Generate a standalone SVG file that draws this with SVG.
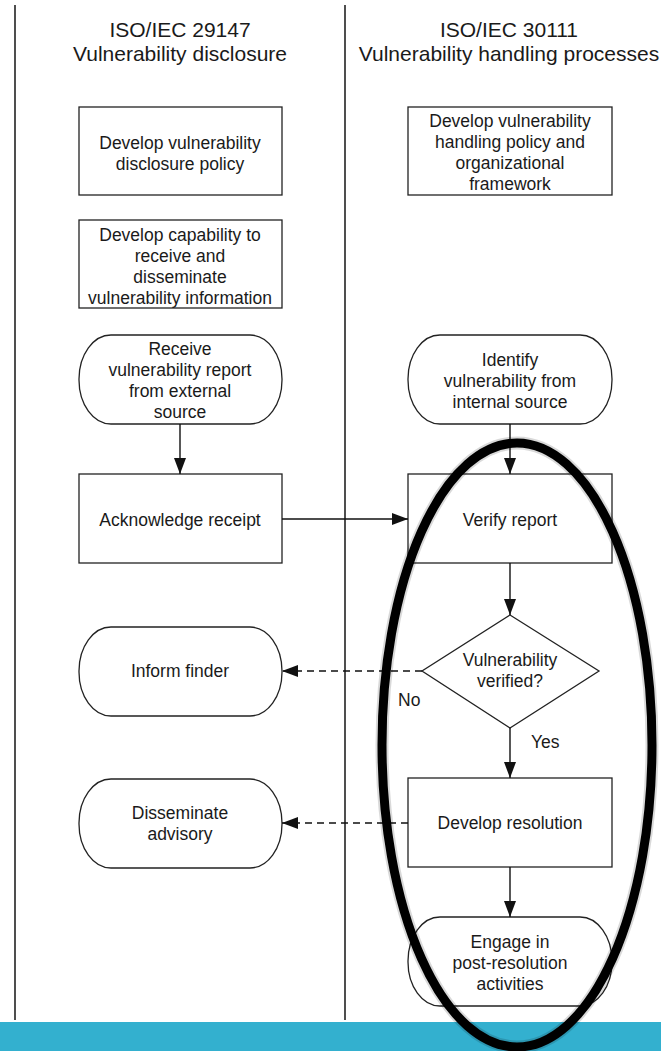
<svg xmlns="http://www.w3.org/2000/svg" width="661" height="1051" viewBox="0 0 661 1051">
  <style>
    .box { fill: #fff; stroke: #222; stroke-width: 1.3; }
    .lane { stroke: #222; stroke-width: 1.6; fill: none; }
    .txt { font-family: "Liberation Sans", Arial, sans-serif; font-size: 17.5px; fill: #1a1a1a; text-anchor: middle; }
    .hdr { font-family: "Liberation Sans", Arial, sans-serif; font-size: 21px; fill: #1a1a1a; text-anchor: middle; }
    .lbl { font-family: "Liberation Sans", Arial, sans-serif; font-size: 17.5px; fill: #1a1a1a; }
    .conn { stroke: #111; stroke-width: 1.4; fill: none; marker-end: url(#arr); }
    .dash { stroke-dasharray: 7 5; }
  </style>
  <defs>
    <marker id="arr" markerUnits="userSpaceOnUse" markerWidth="17" markerHeight="12" refX="16" refY="6" orient="auto">
      <path d="M0,0 L16,6 L0,12 z" fill="#111"/>
    </marker>
  </defs>
  <rect x="0" y="0" width="661" height="1051" fill="#fff"/>
  <g id="lanes">
    <line class="lane" x1="15" y1="5" x2="15" y2="1020"/>
    <line class="lane" x1="345" y1="5" x2="345" y2="1020"/>
    <text class="hdr" x="180" y="37">ISO/IEC 29147</text>
    <text class="hdr" x="180" y="61">Vulnerability disclosure</text>
    <text class="hdr" x="509" y="37">ISO/IEC 30111</text>
    <text class="hdr" x="509" y="61">Vulnerability handling processes</text>
  </g>
  <g id="n-disclosure-policy">
    <rect class="box" x="79" y="107" width="203" height="88"/>
    <text class="txt" x="180" y="149">Develop vulnerability</text>
    <text class="txt" x="180" y="170">disclosure policy</text>
  </g>
  <g id="n-capability">
    <rect class="box" x="79" y="220" width="203" height="88"/>
    <text class="txt" x="180" y="241">Develop capability to</text>
    <text class="txt" x="180" y="262">receive and</text>
    <text class="txt" x="180" y="283">disseminate</text>
    <text class="txt" x="180" y="304">vulnerability information</text>
  </g>
  <g id="n-handling-policy">
    <rect class="box" x="408" y="107" width="204" height="88"/>
    <text class="txt" x="510" y="127">Develop vulnerability</text>
    <text class="txt" x="510" y="148">handling policy and</text>
    <text class="txt" x="510" y="169">organizational</text>
    <text class="txt" x="510" y="190">framework</text>
  </g>
  <g id="n-receive">
    <rect class="box" x="79" y="335" width="203" height="89" rx="32" ry="44"/>
    <text class="txt" x="180" y="355">Receive</text>
    <text class="txt" x="180" y="376">vulnerability report</text>
    <text class="txt" x="180" y="397">from external</text>
    <text class="txt" x="180" y="418">source</text>
  </g>
  <g id="n-identify">
    <rect class="box" x="408" y="335" width="204" height="89" rx="32" ry="44"/>
    <text class="txt" x="510" y="366">Identify</text>
    <text class="txt" x="510" y="387">vulnerability from</text>
    <text class="txt" x="510" y="408">internal source</text>
  </g>
  <g id="n-acknowledge">
    <rect class="box" x="79" y="474" width="203" height="89"/>
    <text class="txt" x="180" y="526">Acknowledge receipt</text>
  </g>
  <g id="n-verify">
    <rect class="box" x="408" y="474" width="204" height="89"/>
    <text class="txt" x="510" y="526">Verify report</text>
  </g>
  <g id="n-decision">
    <polygon class="box" points="510,615 599,671 510,728 422,671"/>
    <text class="txt" x="510" y="666">Vulnerability</text>
    <text class="txt" x="510" y="687">verified?</text>
  </g>
  <g id="n-inform">
    <rect class="box" x="79" y="627" width="203" height="89" rx="32" ry="44"/>
    <text class="txt" x="180" y="677">Inform finder</text>
  </g>
  <g id="n-resolution">
    <rect class="box" x="408" y="778" width="204" height="89"/>
    <text class="txt" x="510" y="829">Develop resolution</text>
  </g>
  <g id="n-disseminate">
    <rect class="box" x="79" y="779" width="203" height="89" rx="32" ry="44"/>
    <text class="txt" x="180" y="819">Disseminate</text>
    <text class="txt" x="180" y="840">advisory</text>
  </g>
  <g id="n-engage">
    <rect class="box" x="408" y="917" width="204" height="89" rx="32" ry="44"/>
    <text class="txt" x="510" y="948">Engage in</text>
    <text class="txt" x="510" y="969">post-resolution</text>
    <text class="txt" x="510" y="990">activities</text>
  </g>
  <g id="connectors">
    <line class="conn" x1="180" y1="424" x2="180" y2="474"/>
    <line class="conn" x1="282" y1="519" x2="408" y2="519"/>
    <line class="conn" x1="510" y1="424" x2="510" y2="474"/>
    <line class="conn" x1="510" y1="563" x2="510" y2="615"/>
    <line class="conn dash" x1="422" y1="671" x2="282" y2="671"/>
    <line class="conn" x1="510" y1="728" x2="510" y2="778"/>
    <line class="conn dash" x1="408" y1="823" x2="282" y2="823"/>
    <line class="conn" x1="510" y1="867" x2="510" y2="917"/>
    <text class="lbl" x="398" y="706">No</text>
    <text class="lbl" x="531" y="748">Yes</text>
  </g>
  <rect id="bar" x="0" y="1022" width="661" height="29" fill="#33b0cf"/>
  <g id="highlight">
    <ellipse cx="517" cy="745" rx="135" ry="302" fill="none" stroke="#000" stroke-opacity="0.15" stroke-width="13"/>
    <ellipse cx="517" cy="745" rx="135" ry="302" fill="none" stroke="#000" stroke-width="9"/>
  </g>
</svg>
